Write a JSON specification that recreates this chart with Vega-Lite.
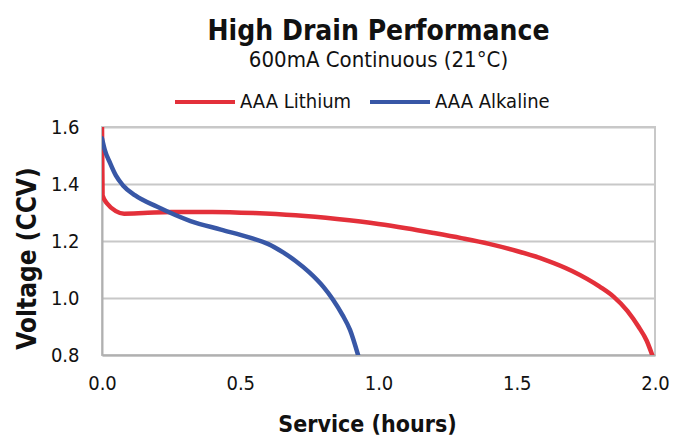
{
  "$schema": "https://vega.github.io/schema/vega-lite/v6.json",
  "width": 553,
  "height": 228,
  "autosize": "none",
  "padding": {"left": 102, "top": 127, "right": 31, "bottom": 87},
  "background": "white",
  "title": {
    "text": "High Drain Performance",
    "subtitle": "600mA Continuous (21°C)",
    "font": "DejaVu Sans Condensed",
    "fontSize": 28,
    "fontWeight": "bold",
    "color": "#111",
    "subtitleFont": "DejaVu Sans Condensed",
    "subtitleFontSize": 22,
    "subtitleColor": "#111",
    "subtitlePadding": 4,
    "anchor": "middle",
    "offset": -1
  },
  "data": {
    "values": [
      {"series": "AAA Lithium", "t": 0, "v": 1.6},
      {"series": "AAA Lithium", "t": 0.002, "v": 1.36},
      {"series": "AAA Lithium", "t": 0.02, "v": 1.33},
      {"series": "AAA Lithium", "t": 0.05, "v": 1.305},
      {"series": "AAA Lithium", "t": 0.08, "v": 1.296},
      {"series": "AAA Lithium", "t": 0.15, "v": 1.298},
      {"series": "AAA Lithium", "t": 0.25, "v": 1.302},
      {"series": "AAA Lithium", "t": 0.4, "v": 1.302},
      {"series": "AAA Lithium", "t": 0.55, "v": 1.298},
      {"series": "AAA Lithium", "t": 0.7, "v": 1.29},
      {"series": "AAA Lithium", "t": 0.85, "v": 1.277},
      {"series": "AAA Lithium", "t": 1.0, "v": 1.26},
      {"series": "AAA Lithium", "t": 1.1, "v": 1.245},
      {"series": "AAA Lithium", "t": 1.2, "v": 1.228},
      {"series": "AAA Lithium", "t": 1.3, "v": 1.21},
      {"series": "AAA Lithium", "t": 1.4, "v": 1.19},
      {"series": "AAA Lithium", "t": 1.5, "v": 1.165},
      {"series": "AAA Lithium", "t": 1.6, "v": 1.135},
      {"series": "AAA Lithium", "t": 1.7, "v": 1.095},
      {"series": "AAA Lithium", "t": 1.8, "v": 1.04},
      {"series": "AAA Lithium", "t": 1.85, "v": 1.005},
      {"series": "AAA Lithium", "t": 1.9, "v": 0.955},
      {"series": "AAA Lithium", "t": 1.94, "v": 0.9},
      {"series": "AAA Lithium", "t": 1.97, "v": 0.85},
      {"series": "AAA Lithium", "t": 1.99, "v": 0.8},
      {"series": "AAA Alkaline", "t": 0, "v": 1.56},
      {"series": "AAA Alkaline", "t": 0.01, "v": 1.52},
      {"series": "AAA Alkaline", "t": 0.029, "v": 1.474},
      {"series": "AAA Alkaline", "t": 0.05, "v": 1.43},
      {"series": "AAA Alkaline", "t": 0.076, "v": 1.395},
      {"series": "AAA Alkaline", "t": 0.12, "v": 1.36},
      {"series": "AAA Alkaline", "t": 0.2, "v": 1.32},
      {"series": "AAA Alkaline", "t": 0.32, "v": 1.27},
      {"series": "AAA Alkaline", "t": 0.43, "v": 1.24},
      {"series": "AAA Alkaline", "t": 0.535, "v": 1.212},
      {"series": "AAA Alkaline", "t": 0.6, "v": 1.19},
      {"series": "AAA Alkaline", "t": 0.655, "v": 1.16},
      {"series": "AAA Alkaline", "t": 0.7, "v": 1.13},
      {"series": "AAA Alkaline", "t": 0.75, "v": 1.09},
      {"series": "AAA Alkaline", "t": 0.8, "v": 1.04},
      {"series": "AAA Alkaline", "t": 0.835, "v": 0.995},
      {"series": "AAA Alkaline", "t": 0.87, "v": 0.94},
      {"series": "AAA Alkaline", "t": 0.897, "v": 0.888},
      {"series": "AAA Alkaline", "t": 0.926, "v": 0.8}
    ]
  },
  "mark": {"type": "line", "strokeWidth": 4.5, "strokeCap": "round", "strokeJoin": "round", "clip": true, "interpolate": "monotone"},
  "encoding": {
    "x": {
      "field": "t", "type": "quantitative",
      "scale": {"domain": [0, 2.0], "nice": false},
      "axis": {"title": "Service (hours)", "values": [0, 0.5, 1.0, 1.5, 2.0], "format": ".1f", "grid": false, "ticks": false, "labelFlush": false, "labelPadding": 18, "titlePadding": 20, "titleX": 265}
    },
    "y": {
      "field": "v", "type": "quantitative",
      "scale": {"domain": [0.8, 1.6], "nice": false, "zero": false},
      "axis": {"title": "Voltage (CCV)", "values": [0.8, 1.0, 1.2, 1.4, 1.6], "format": ".1f", "ticks": false, "labelPadding": 23, "titlePadding": 10, "titleFontSize": 26, "titleY": 131}
    },
    "color": {
      "field": "series", "type": "nominal",
      "scale": {"domain": ["AAA Lithium", "AAA Alkaline"], "range": ["#e3303a", "#3857a6"]},
      "legend": {"title": null, "orient": "none", "direction": "horizontal", "legendX": 71, "legendY": -57, "symbolType": "stroke", "symbolSize": 3600, "symbolStrokeWidth": 4, "labelFontSize": 20, "labelFont": "DejaVu Sans Condensed", "labelColor": "#111", "columnPadding": 10, "labelOffset": 3}
    }
  },
  "config": {
    "view": {"stroke": "#c8c8c8", "strokeWidth": 2},
    "axis": {
      "labelFont": "DejaVu Sans Condensed",
      "labelFontSize": 20,
      "labelColor": "#111",
      "titleFont": "DejaVu Sans Condensed",
      "titleFontSize": 23,
      "titleFontWeight": "bold",
      "titleColor": "#111",
      "domainColor": "#b0b0b0",
      "domainWidth": 2,
      "gridColor": "#c8c8c8",
      "gridWidth": 2
    }
  }
}
